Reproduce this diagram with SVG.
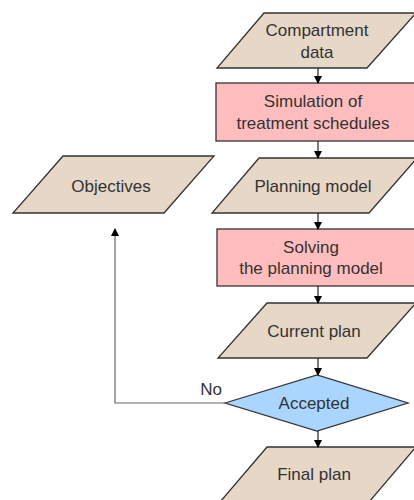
<svg xmlns="http://www.w3.org/2000/svg" width="414" height="500" viewBox="0 0 414 500">
<style>
.io{fill:#E6D7C7;stroke:#333;stroke-width:1.3}
.proc{fill:#FFBDBD;stroke:#333;stroke-width:1.3}
.dec{fill:#A9D5FF;stroke:#333;stroke-width:1.3}
text{font-family:"Liberation Sans",Arial,sans-serif;font-size:17px;fill:#333;text-anchor:middle}
.c{fill:none;stroke:#222;stroke-width:1.2}
.fb{fill:none;stroke:#666;stroke-width:1.2}
</style>
<defs>
<marker id="ah" markerWidth="8" markerHeight="8" refX="7" refY="4" orient="auto" markerUnits="userSpaceOnUse">
<path d="M0,0 L8,4 L0,8 z" fill="#000"/>
</marker>
</defs>
<rect width="414" height="500" fill="#fff"/>
<g id="compartment">
<polygon class="io" points="264,13 416,13 367,68 217,68"/>
<text x="317" y="36">Compartment</text>
<text x="317" y="58">data</text>
</g>
<g id="simulation">
<rect class="proc" x="216" y="83" width="204" height="58"/>
<text x="313" y="107">Simulation of</text>
<text x="313" y="129">treatment schedules</text>
</g>
<g id="objectives">
<polygon class="io" points="63,156 214,156 164,213 13,213"/>
<text x="111" y="192">Objectives</text>
</g>
<g id="planning">
<polygon class="io" points="259,158 417,158 369,213 212,213"/>
<text x="313" y="192">Planning model</text>
</g>
<g id="solving">
<rect class="proc" x="217" y="229" width="203" height="57"/>
<text x="311" y="253">Solving</text>
<text x="311" y="274">the planning model</text>
</g>
<g id="current">
<polygon class="io" points="267,303 416,303 367,358 218,358"/>
<text x="314" y="337">Current plan</text>
</g>
<g id="accepted">
<polygon class="dec" points="225,403 317,375 408,403 317,431"/>
<text x="314" y="409">Accepted</text>
</g>
<g id="final">
<polygon class="io" points="267,447 416,447 369,502 220,502"/>
<text x="314" y="480">Final plan</text>
</g>
<g id="connectors">
<line class="c" x1="318" y1="68" x2="318" y2="83" marker-end="url(#ah)"/>
<line class="c" x1="318" y1="141" x2="318" y2="158" marker-end="url(#ah)"/>
<line class="c" x1="318" y1="213" x2="318" y2="229" marker-end="url(#ah)"/>
<line class="c" x1="318" y1="286" x2="318" y2="303" marker-end="url(#ah)"/>
<line class="c" x1="318" y1="358" x2="318" y2="375" marker-end="url(#ah)"/>
<line class="c" x1="318" y1="431" x2="318" y2="447" marker-end="url(#ah)"/>
<polyline class="fb" points="225,403 115,403 115,229" marker-end="url(#ah)"/>
<text x="211" y="395">No</text>
</g>
</svg>
